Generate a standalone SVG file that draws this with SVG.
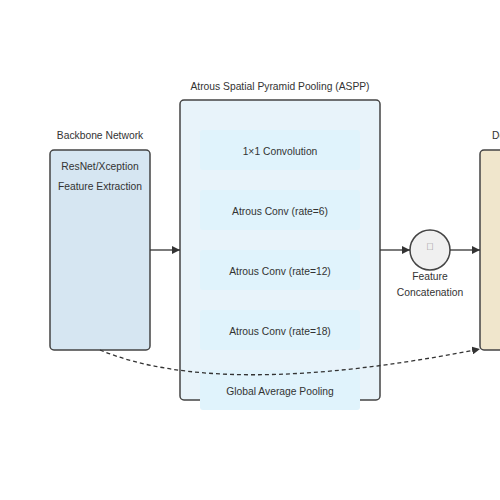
<svg xmlns="http://www.w3.org/2000/svg" width="500" height="500" viewBox="0 0 500 500">
<style>
text{font-family:"Liberation Sans",Arial,sans-serif;font-size:10.3px;fill:#333;text-anchor:middle}
.box{stroke:#444;stroke-width:1.5}
.sub{fill:#e0f3fc}
.conn{stroke:#333;stroke-width:1.3;fill:none}
</style>
<defs>
<marker id="ah" viewBox="0 0 10 10" refX="10" refY="5" markerWidth="8" markerHeight="8" markerUnits="userSpaceOnUse" orient="auto"><path d="M0,0L10,5L0,10z" fill="#333"/></marker>
</defs>
<rect width="500" height="500" fill="#fff"/>
<g id="backbone">
<text x="100" y="139">Backbone Network</text>
<rect class="box" x="50" y="150" width="100" height="200" rx="4" fill="#d6e6f2"/>
<text x="100" y="170">ResNet/Xception</text>
<text x="100" y="190">Feature Extraction</text>
</g>
<g id="aspp">
<text x="280" y="90">Atrous Spatial Pyramid Pooling (ASPP)</text>
<rect class="box" x="180" y="100" width="200" height="300" rx="4" fill="#e8f3fa"/>
</g>
<g id="conv1x1"><rect class="sub" x="200" y="130" width="160" height="40" rx="3"/><text x="280" y="155">1×1 Convolution</text></g>
<g id="atrous6"><rect class="sub" x="200" y="190" width="160" height="40" rx="3"/><text x="280" y="215">Atrous Conv (rate=6)</text></g>
<g id="atrous12"><rect class="sub" x="200" y="250" width="160" height="40" rx="3"/><text x="280" y="275">Atrous Conv (rate=12)</text></g>
<g id="atrous18"><rect class="sub" x="200" y="310" width="160" height="40" rx="3"/><text x="280" y="335">Atrous Conv (rate=18)</text></g>
<g id="gap"><rect class="sub" x="200" y="370" width="160" height="40" rx="3"/><text x="280" y="395">Global Average Pooling</text></g>
<g id="concat">
<circle class="box" cx="430" cy="250" r="20" fill="#f0f0f0"/>
<text x="430" y="250" style="font-size:10px;fill:#888">&#xF0C1;</text>
<text x="430" y="280">Feature</text>
<text x="430" y="296">Concatenation</text>
</g>
<g id="decoder">
<text x="492" y="139" style="text-anchor:start">Decoder</text>
<rect class="box" x="480" y="150" width="100" height="200" rx="4" fill="#f0e6cc"/>
</g>
<g id="connectors">
<line class="conn" x1="150" y1="250" x2="180" y2="250" marker-end="url(#ah)"/>
<line class="conn" x1="380" y1="250" x2="410" y2="250" marker-end="url(#ah)"/>
<line class="conn" x1="450" y1="250" x2="480" y2="250" marker-end="url(#ah)"/>
<path class="conn" d="M100,350 Q220,400 480,349" stroke-dasharray="4,3" marker-end="url(#ah)"/>
</g>
</svg>
